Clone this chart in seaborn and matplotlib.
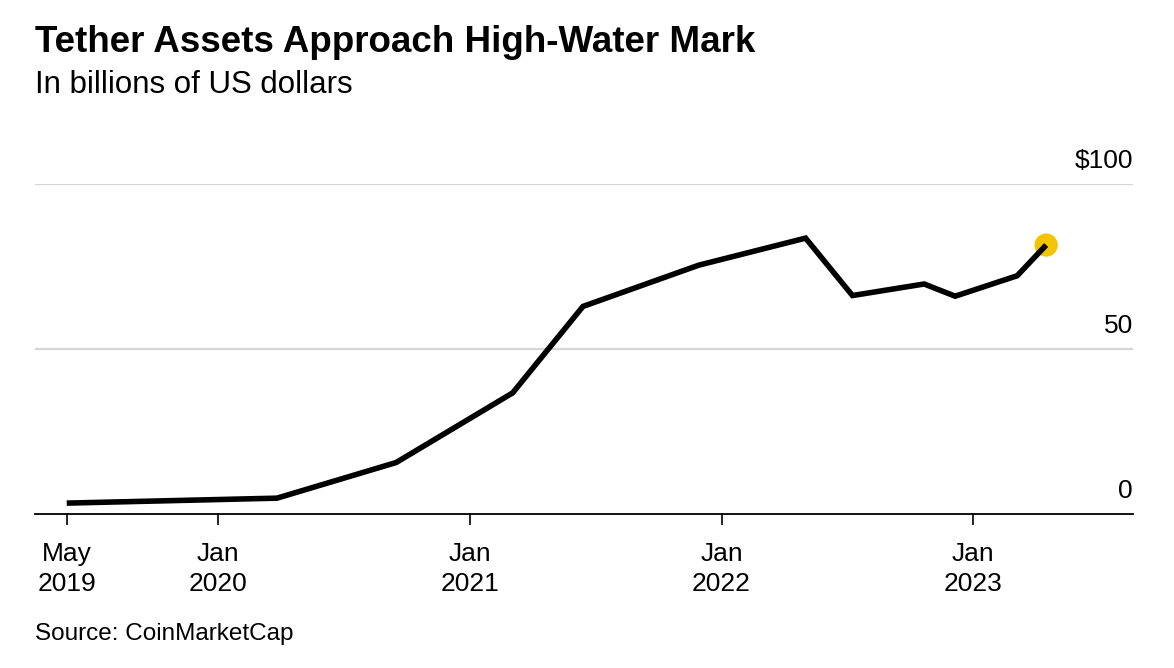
import matplotlib
matplotlib.use("Agg")
import matplotlib.pyplot as plt
import matplotlib.transforms as mtransforms
import seaborn as sns
import pandas as pd

# ---- data ----
dates = ["2019-05-27", "2020-03-27", "2020-09-16", "2021-03-04", "2021-06-14",
         "2021-11-29", "2022-05-03", "2022-07-10", "2022-10-22", "2022-12-06",
         "2023-03-06", "2023-04-17"]
assets = [3.3, 4.8, 15.6, 36.7, 62.9, 75.4, 83.6, 66.2, 69.7, 66.0, 72.2, 81.5]

xtick_dates = ["2019-05-27", "2020-01-01", "2021-01-01", "2022-01-01", "2023-01-01"]
xtick_labels = ["May\n2019", "Jan\n2020", "Jan\n2021", "Jan\n2022", "Jan\n2023"]
ytick_values = [0, 50, 100]
ytick_labels = ["0", "50", "$100"]

title = "Tether Assets Approach High-Water Mark"
subtitle = "In billions of US dollars"
source = "Source: CoinMarketCap"

df = pd.DataFrame({"date": pd.to_datetime(dates), "assets": assets})

sns.set_style("white")
plt.rcParams["font.family"] = ["Liberation Sans", "DejaVu Sans"]
plt.rcParams["text.color"] = "black"
plt.rcParams["xtick.color"] = "black"
plt.rcParams["xtick.labelcolor"] = "black"

W, H = 1174, 668
fig = plt.figure(figsize=(W / 100, H / 100), dpi=100)
ax = fig.add_axes([35 / W, 1 - 514 / H, (1133 - 35) / W, (514 - 184) / H])

# gridlines
for v in ytick_values[1:]:
    ax.axhline(v, color="#d6d6d6", lw=1.6, zorder=0)

sns.lineplot(data=df, x="date", y="assets", color="black", lw=4.0, ax=ax,
             zorder=3, solid_joinstyle="miter", solid_capstyle="butt")
sns.scatterplot(data=df.iloc[[-1]], x="date", y="assets", color="#f5c400",
                s=280, edgecolor="none", ax=ax, zorder=2)

ax.set_xlim(pd.Timestamp("2019-04-11"), pd.Timestamp("2023-08-21"))
ax.set_ylim(0, 100)

for s in ["top", "right", "left"]:
    ax.spines[s].set_visible(False)
ax.spines["bottom"].set_color("black")
ax.spines["bottom"].set_linewidth(1.3)

ax.set_xticks(pd.to_datetime(xtick_dates))
ax.set_xticklabels(xtick_labels, fontsize=19, linespacing=1.32, color="black")
ax.tick_params(axis="x", bottom=True, direction="out", length=8, width=1.2,
               color="black", pad=12)
ax.set_yticks([])
ax.set_xlabel("")
ax.set_ylabel("")

# y labels above gridlines on the right
trans = mtransforms.offset_copy(ax.get_yaxis_transform(), fig=fig, x=0, y=11, units="dots")
for v, lab in zip(ytick_values, ytick_labels):
    ax.text(1.0, v, lab, transform=trans, ha="right", va="bottom", fontsize=19, color="black")

fig.text(35 / W, 1 - 52 / H, title, fontsize=26.5, fontweight="bold", ha="left",
         va="baseline", color="black")
fig.text(35 / W, 1 - 93 / H, subtitle, fontsize=22.5, ha="left", va="baseline", color="black")
fig.text(35 / W, 1 - 640 / H, source, fontsize=17.5, ha="left", va="baseline", color="black")

fig.savefig("out.png", dpi=100, facecolor="white")
